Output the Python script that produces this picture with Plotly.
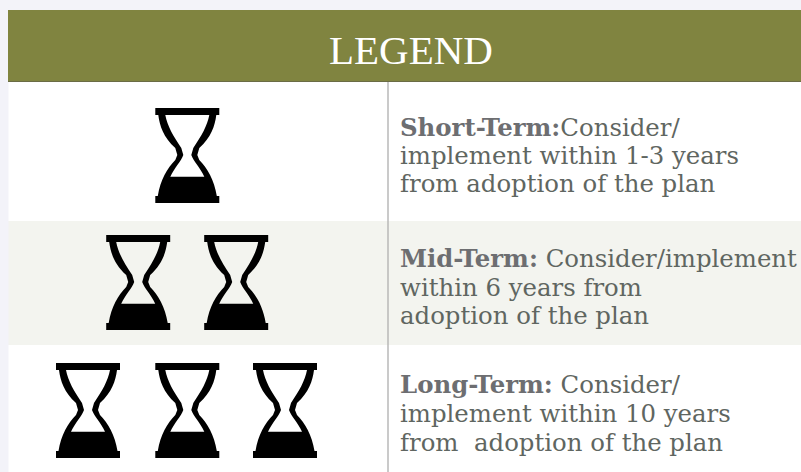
import plotly.graph_objects as go

TITLE = "LEGEND"
ROW_TOPS = [82, 221, 345]
ROW_BOTTOMS = [221, 345, 472]
ROW_COLORS = ["#ffffff", "#f3f4ef", "#ffffff"]
GLASS_CENTERS = [[187.3], [138.2, 236.2], [88, 187.3, 285]]
GLASS_TOPS = [108, 235, 363]
BOLD = "<span style='color:#6d6e71'><b>%s</b></span>"
TEXT_LINES = [
    [BOLD % "Short-Term:" + "Consider/", "implement within 1-3 years", "from adoption of the plan"],
    [BOLD % "Mid-Term:" + " Consider/implement", "within 6 years from", "adoption of the plan"],
    [BOLD % "Long-Term:" + " Consider/", "implement within 10 years", "from\u00a0 adoption of the plan"],
]
TEXT_Y = [[127, 155, 183], [258, 287, 315], [384, 413, 442]]
TEXT_X = 400
FONT = "DejaVu Serif"
FONT_SIZE = 24.4


def glass_path(cx, y0):
    def p(dx, dy):
        return f"{cx + dx:.1f},{y0 + dy:.1f}"
    d = f"M{p(-32, 0)} L{p(32, 0)} L{p(32, 7)} L{p(29, 7)} "
    d += f"C{p(27.5, 18)} {p(24, 29)} {p(12, 40)} L{p(10, 47)} L{p(12, 52)} "
    d += f"C{p(20, 60)} {p(27, 72)} {p(29.5, 88)} "
    d += f"L{p(32, 88)} L{p(32, 95)} L{p(-32, 95)} L{p(-32, 88)} L{p(-29.5, 88)} "
    d += f"C{p(-27, 72)} {p(-20, 60)} {p(-12, 52)} L{p(-10, 47)} L{p(-12, 40)} "
    d += f"C{p(-24, 29)} {p(-27.5, 18)} {p(-29, 7)} L{p(-32, 7)} Z "
    # hole, wound the opposite way
    d += f"M{p(-22, 7)} C{p(-20, 18)} {p(-14, 28)} {p(-6, 40)} L{p(-4, 47)} "
    d += f"C{p(-6, 53)} {p(-13, 60)} {p(-17, 68.7)} L{p(17, 68.7)} "
    d += f"C{p(13, 60)} {p(6, 53)} {p(4, 47)} L{p(6, 40)} "
    d += f"C{p(14, 28)} {p(20, 18)} {p(22, 7)} Z"
    return d


shapes = [
    dict(type="rect", x0=8, x1=801, y0=10, y1=81, fillcolor="#808440", line_width=0, layer="below"),
    dict(type="rect", x0=8, x1=801, y0=81, y1=82, fillcolor="#6a6c45", line_width=0, layer="below"),
]
for top, bottom, color in zip(ROW_TOPS, ROW_BOTTOMS, ROW_COLORS):
    shapes.append(dict(type="rect", x0=8.5, x1=801, y0=top, y1=bottom, fillcolor=color, line_width=0, layer="below"))
shapes.append(dict(type="rect", x0=387.3, x1=388.7, y0=82, y1=472, fillcolor="#b4b4b4", line_width=0, layer="below"))
for centers, top in zip(GLASS_CENTERS, GLASS_TOPS):
    for cx in centers:
        shapes.append(dict(type="path", path=glass_path(cx, top), fillcolor="#000000", line_width=0))

annotations = [dict(x=411, y=50, text=TITLE, showarrow=False, xanchor="center", yanchor="middle",
                    font=dict(family="Liberation Serif", size=41, color="#ffffff"))]
for lines, ys in zip(TEXT_LINES, TEXT_Y):
    for line, y in zip(lines, ys):
        annotations.append(dict(x=TEXT_X, y=y, text=line, showarrow=False, xanchor="left", yanchor="middle",
                                xshift=-2, font=dict(family=FONT, size=FONT_SIZE, color="#5f6661")))

fig = go.Figure()
fig.update_layout(
    width=801, height=472, margin=dict(l=0, r=0, t=0, b=0), paper_bgcolor="#f3f3f9", plot_bgcolor="#f3f3f9",
    xaxis=dict(range=[0, 801], visible=False, fixedrange=True),
    yaxis=dict(range=[472, 0], visible=False, fixedrange=True),
    shapes=shapes, annotations=annotations, showlegend=False,
)
fig.write_html("out.html", config=dict(displayModeBar=False),
               post_script="document.body.style.margin='0';document.documentElement.style.overflow='hidden';")
